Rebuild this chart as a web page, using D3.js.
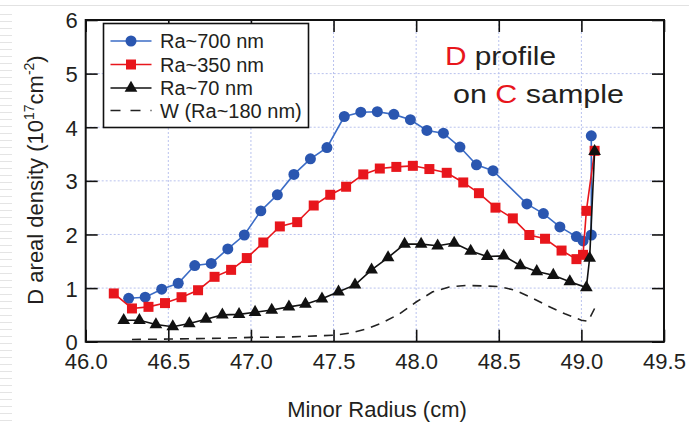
<!DOCTYPE html>
<html>
<head>
<meta charset="utf-8">
<script src="https://cdn.jsdelivr.net/npm/d3@7"></script>
<style>
  body { margin: 0; background: #fff; }
  svg { display: block; font-family: "Liberation Sans", Arial, sans-serif; }
</style>
</head>
<body>
<div id="main"></div>
<script>

var width = 689,
    height = 423;

// ticks
var xTicks = [46.0, 46.5, 47.0, 47.5, 48.0, 48.5, 49.0, 49.5];
var yTicks = [0, 1, 2, 3, 4, 5, 6];

// Ra~700 nm
var r700 = [46.26, 46.36, 46.46, 46.56, 46.66, 46.76, 46.86, 46.96, 47.06, 47.16, 47.26, 47.36, 47.46, 47.565, 47.665, 47.765, 47.865, 47.965, 48.065, 48.165, 48.265, 48.365, 48.465, 48.67, 48.77, 48.87, 48.97, 49.01, 49.06, 49.06];
var d700 = [0.81, 0.83, 0.98, 1.09, 1.42, 1.46, 1.73, 1.99, 2.44, 2.74, 3.12, 3.41, 3.62, 4.20, 4.28, 4.29, 4.24, 4.14, 3.94, 3.89, 3.63, 3.30, 3.19, 2.57, 2.39, 2.14, 1.96, 1.88, 1.99, 3.84];

// Ra~350 nm
var r350 = [46.17, 46.28, 46.38, 46.48, 46.58, 46.68, 46.78, 46.88, 46.975, 47.075, 47.175, 47.28, 47.38, 47.48, 47.576, 47.68, 47.78, 47.88, 47.98, 48.08, 48.185, 48.285, 48.38, 48.48, 48.585, 48.685, 48.78, 48.88, 48.97, 49.01, 49.03, 49.08];
var d350 = [0.90, 0.62, 0.65, 0.72, 0.83, 0.96, 1.21, 1.34, 1.56, 1.85, 2.15, 2.23, 2.54, 2.74, 2.89, 3.12, 3.23, 3.26, 3.28, 3.22, 3.15, 2.97, 2.77, 2.50, 2.30, 1.99, 1.92, 1.70, 1.54, 1.62, 2.44, 3.56];

// Ra~70 nm
var r70 = [46.23, 46.325, 46.425, 46.527, 46.627, 46.728, 46.827, 46.928, 47.025, 47.126, 47.23, 47.33, 47.43, 47.53, 47.63, 47.73, 47.83, 47.93, 48.03, 48.13, 48.23, 48.33, 48.43, 48.53, 48.63, 48.73, 48.83, 48.93, 49.03, 49.05, 49.08];
var d70 = [0.40, 0.40, 0.32, 0.28, 0.34, 0.42, 0.50, 0.51, 0.55, 0.59, 0.65, 0.70, 0.80, 0.93, 1.06, 1.34, 1.57, 1.82, 1.82, 1.79, 1.84, 1.69, 1.59, 1.60, 1.42, 1.31, 1.24, 1.12, 1.01, 1.56, 3.55];

// W (Ra~180 nm), no markers
var rW = [46.28, 46.5, 46.75, 47.0, 47.25, 47.5, 47.6, 47.7, 47.8, 47.9, 48.0, 48.1, 48.2, 48.3, 48.4, 48.5, 48.6, 48.7, 48.8, 48.9, 49.0, 49.04, 49.08];
var dW = [0.04, 0.05, 0.06, 0.08, 0.09, 0.12, 0.16, 0.24, 0.36, 0.52, 0.74, 0.93, 1.02, 1.05, 1.04, 1.03, 0.96, 0.82, 0.66, 0.52, 0.40, 0.38, 0.62];

var legendLabels = ["Ra~700 nm", "Ra~350 nm", "Ra~70 nm", "W (Ra~180 nm)"];

// plot frame (note: "top" is taken by window.top, so prefixed names)
var pLeft = 85.7, pRight = 664, pTop = 20, pBottom = 341.7;
var blue = "#2a56b0", blueLine = "#3b6cc6", red = "#e8161c", ink = "#231f20";

var svg = d3.select("div#main").append("svg")
    .attr("width", width)
    .attr("height", height);

// screenshot ruler bits along the edge
svg.append("line")
    .attr("x1", 0).attr("x2", width).attr("y1", 5.5).attr("y2", 5.5)
    .attr("stroke", "#e2e2e2").attr("stroke-width", 1);
svg.selectAll(".rule")
    .data(d3.range(14, height, 7))
    .enter().append("line")
    .attr("class", "rule")
    .attr("x1", 0).attr("x2", 12)
    .attr("y1", function(d) { return d + 0.5; })
    .attr("y2", function(d) { return d + 0.5; })
    .attr("stroke", "#e4e4e4");

var x = d3.scaleLinear().domain([46, 49.5]).range([pLeft, pRight]);
var y = d3.scaleLinear().domain([0, 6]).range([pBottom, pTop]);

// dotted grid
svg.append("g").selectAll("line")
    .data(xTicks.slice(1, -1))
    .enter().append("line")
    .attr("x1", function(d) { return x(d); })
    .attr("x2", function(d) { return x(d); })
    .attr("y1", pTop).attr("y2", pBottom)
    .attr("stroke", "#b9c2ee").attr("stroke-dasharray", "2,2");
svg.append("g").selectAll("line")
    .data(yTicks.slice(1, -1))
    .enter().append("line")
    .attr("y1", function(d) { return y(d); })
    .attr("y2", function(d) { return y(d); })
    .attr("x1", pLeft).attr("x2", pRight)
    .attr("stroke", "#b9c2ee").attr("stroke-dasharray", "2,2");

// axes with inward ticks on all four sides
var tickLen = 12;
var gx = svg.append("g").attr("transform", `translate(0,${pBottom})`)
    .call(d3.axisBottom(x).tickValues(xTicks).tickSize(-tickLen).tickPadding(15)
          .tickFormat(d3.format(".1f")));
var gy = svg.append("g").attr("transform", `translate(${pLeft},0)`)
    .call(d3.axisLeft(y).tickValues(yTicks).tickSize(-tickLen).tickPadding(8)
          .tickFormat(d3.format("d")));
var gt = svg.append("g").attr("transform", `translate(0,${pTop})`)
    .call(d3.axisTop(x).tickValues(xTicks).tickSize(-tickLen).tickFormat(""));
var gr = svg.append("g").attr("transform", `translate(${pRight},0)`)
    .call(d3.axisRight(y).tickValues(yTicks).tickSize(-tickLen).tickFormat(""));

[gx, gy, gt, gr].forEach(function(g) {
    g.select(".domain").remove();
    g.selectAll("line").attr("stroke", "#111").attr("stroke-width", 1.6);
    g.selectAll("text").attr("fill", ink).style("font-size", "22px")
        .style("font-family", "'Liberation Sans', Arial, sans-serif");
});
gx.selectAll("text").attr("dy", "0.55em");
gy.selectAll("text").attr("dy", "0.36em");

svg.append("rect")
    .attr("x", pLeft).attr("y", pTop)
    .attr("width", pRight - pLeft).attr("height", pBottom - pTop)
    .attr("fill", "none").attr("stroke", "#111").attr("stroke-width", 2);

// series
function pts(xs, ys) {
    return xs.map(function(v, i) { return [v, ys[i]]; });
}
var line = d3.line()
    .x(function(d) { return x(d[0]); })
    .y(function(d) { return y(d[1]); });

var series = [
    { data: pts(rW, dW), stroke: "#222", dash: "9,7", shape: null, fill: null },
    { data: pts(r700, d700), stroke: blueLine, dash: null, shape: d3.symbolCircle, size: 95, fill: blue },
    { data: pts(r350, d350), stroke: red, dash: null, shape: d3.symbolSquare, size: 100, fill: red },
    { data: pts(r70, d70), stroke: "#111", dash: null, shape: d3.symbolTriangle, size: 70, fill: "#111" }
];

series.forEach(function(s) {
    svg.append("path")
        .datum(s.data)
        .attr("d", line)
        .attr("fill", "none")
        .attr("stroke", s.stroke)
        .attr("stroke-width", 1.6)
        .attr("stroke-dasharray", s.dash);
    if (s.shape) {
        svg.append("g").selectAll("path")
            .data(s.data)
            .enter().append("path")
            .attr("transform", function(d) { return `translate(${x(d[0])},${y(d[1])})`; })
            .attr("d", d3.symbol().type(s.shape).size(s.size))
            .attr("fill", s.fill);
    }
});

// legend
var lg = svg.append("g");
lg.append("rect")
    .attr("x", 103.5).attr("y", 23.5).attr("width", 205).attr("height", 104)
    .attr("fill", "#fff").attr("stroke", "#111").attr("stroke-width", 1.6);
var rowY = [41, 64.5, 88, 110.5];
series.slice(1).concat(series[0]).forEach(function(s, i) {
    var ry = rowY[i];
    lg.append("line")
        .attr("x1", 110.5).attr("x2", 151.5).attr("y1", ry).attr("y2", ry)
        .attr("stroke", s.stroke).attr("stroke-width", 1.6)
        .attr("stroke-dasharray", s.dash ? "10,10" : null);
    if (s.shape) {
        lg.append("path")
            .attr("transform", `translate(131,${ry})`)
            .attr("d", d3.symbol().type(s.shape).size(s.size))
            .attr("fill", s.fill);
    }
    lg.append("text")
        .attr("x", 160).attr("y", ry).attr("dy", "0.36em")
        .attr("fill", ink).style("font-size", "20px")
        .text(legendLabels[i]);
});

// annotation
var t1 = svg.append("text").attr("x", 445).attr("y", 65)
    .attr("textLength", 111).attr("lengthAdjust", "spacingAndGlyphs")
    .style("font-size", "26px").attr("fill", ink);
t1.append("tspan").attr("fill", red).text("D");
t1.append("tspan").text(" profile");
var t2 = svg.append("text").attr("x", 453).attr("y", 103)
    .attr("textLength", 171).attr("lengthAdjust", "spacingAndGlyphs")
    .style("font-size", "26px").attr("fill", ink);
t2.append("tspan").text("on ");
t2.append("tspan").attr("fill", red).text("C");
t2.append("tspan").text(" sample");

// axis titles
svg.append("text")
    .attr("x", 377).attr("y", 417)
    .attr("text-anchor", "middle")
    .attr("fill", ink).style("font-size", "22px")
    .text("Minor Radius (cm)");

var yl = svg.append("text")
    .attr("transform", "translate(43,180) rotate(-90)")
    .attr("text-anchor", "middle")
    .attr("fill", ink).style("font-size", "22px");
yl.append("tspan").text("D areal density (10");
yl.append("tspan").attr("dy", -9).style("font-size", "14px").text("17");
yl.append("tspan").attr("dy", 9).text("cm");
yl.append("tspan").attr("dy", -9).style("font-size", "14px").text("-2");
yl.append("tspan").attr("dy", 9).text(")");

</script>
</body>
</html>
